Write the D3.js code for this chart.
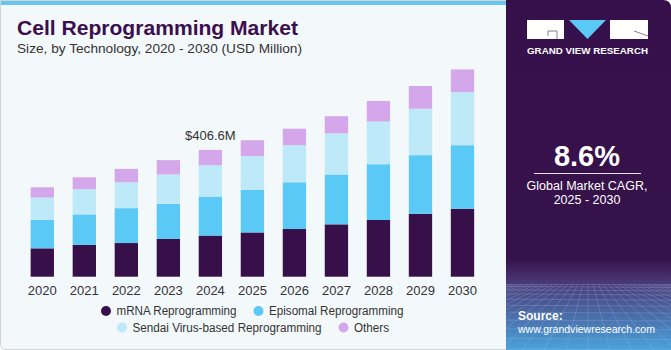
<!DOCTYPE html>
<html>
<head>
<meta charset="utf-8">
<script src="https://cdn.jsdelivr.net/npm/d3@7"></script>
<style>
  body { margin: 0; background: #fff; }
  svg { display: block; font-family: "Liberation Sans", Arial, sans-serif; }
</style>
</head>
<body>
<div id="chart"></div>
<script>
// chart values (USD Million)
const years = ["2020","2021","2022","2023","2024","2025","2026","2027","2028","2029","2030"];
const mrna     = [91, 102, 108, 121, 132, 142, 153, 168, 182, 202, 218];
const episomal = [91,  98, 112, 113, 125, 137, 150, 160, 179, 188, 204];
const sendai   = [72,  81,  83,  94, 101, 108, 119, 132, 137, 149, 170];
const others   = [33,  38,  43,  46,  49,  51,  53,  55,  66,  73,  73];
const seriesNames = ["mRNA Reprogramming", "Episomal Reprogramming", "Sendai Virus-based Reprogramming", "Others"];
const colors = ["#37104a", "#5bc9f5", "#bde9f9", "#d4a7ea"];
const callout = {year: "2024", text: "$406.6M"};

const W = 671, H = 350;
const svg = d3.select("#chart").append("svg")
    .attr("width", W).attr("height", H);

// left panel background
svg.append("path")
    .attr("d", "M0.5,0.5 H507 V349.5 H6 Q0.5,349.5 0.5,344 Z")
    .attr("fill", "#f3f8fb")
    .attr("stroke", "#d0d4d8")
    .attr("stroke-width", 1);
svg.append("rect")
    .attr("x", 1).attr("y", 1).attr("width", 506).attr("height", 4)
    .attr("fill", "#66c6ee");

// title
svg.append("text")
    .attr("x", 17).attr("y", 35)
    .attr("textLength", 281).attr("lengthAdjust", "spacingAndGlyphs")
    .style("font-size", "20px").style("font-weight", "900")
    .style("fill", "#3b0f4d")
    .text("Cell Reprogramming Market");
svg.append("text")
    .attr("x", 17).attr("y", 53)
    .attr("textLength", 285).attr("lengthAdjust", "spacingAndGlyphs")
    .style("font-size", "13px").style("fill", "#333")
    .text("Size, by Technology, 2020 - 2030 (USD Million)");

// stacked data
const table = years.map((y, i) => ({
    year: y, s0: mrna[i], s1: episomal[i], s2: sendai[i], s3: others[i]
}));
const keys = ["s0", "s1", "s2", "s3"];
const stack = d3.stack().keys(keys)(table);

const x = d3.scaleBand()
    .domain(years)
    .range([21.3, 483.5])
    .paddingInner(0.445)
    .paddingOuter(0.2225);

const y = d3.scaleLinear()
    .domain([0, 700])
    .range([276.7, 276.7 - 700 / 3.209]);

const g = svg.append("g");
g.selectAll("g.layer")
    .data(stack)
    .enter().append("g")
    .attr("class", "layer")
    .attr("fill", (d, i) => colors[i])
    .selectAll("rect")
    .data(d => d)
    .enter().append("rect")
    .attr("x", d => x(d.data.year))
    .attr("y", d => y(d[1]))
    .attr("width", x.bandwidth())
    .attr("height", d => y(d[0]) - y(d[1]));

// x axis labels
const xAxis = svg.append("g")
    .attr("transform", "translate(0,276.7)")
    .call(d3.axisBottom(x).tickSize(0).tickPadding(6));
xAxis.select(".domain").remove();
xAxis.selectAll("text")
    .style("font-size", "13px")
    .style("font-family", "Liberation Sans, Arial, sans-serif")
    .style("fill", "#333")
    .attr("dy", "0.95em");

// callout
const ci = years.indexOf(callout.year);
const total = mrna[ci] + episomal[ci] + sendai[ci] + others[ci];
svg.append("text")
    .attr("x", x(callout.year) + x.bandwidth() / 2)
    .attr("y", y(total) - 10)
    .attr("text-anchor", "middle")
    .style("font-size", "13px").style("fill", "#333")
    .text(callout.text);

// legend
const legendPos = [
    {cx: 106, cy: 311, w: 120}, {cx: 258.5, cy: 311, w: 134.5},
    {cx: 122, cy: 327.5, w: 189}, {cx: 343.5, cy: 327.5, w: 35}
];
const legend = svg.append("g");
seriesNames.forEach((name, i) => {
    legend.append("circle")
        .attr("cx", legendPos[i].cx).attr("cy", legendPos[i].cy)
        .attr("r", 5).attr("fill", colors[i]);
    legend.append("text")
        .attr("x", legendPos[i].cx + 10.5).attr("y", legendPos[i].cy + 4.3)
        .attr("textLength", legendPos[i].w).attr("lengthAdjust", "spacingAndGlyphs")
        .style("font-size", "12px").style("fill", "#333")
        .text(name);
});

// right panel
const defs = svg.append("defs");
const grad = defs.append("linearGradient")
    .attr("id", "panelGrad").attr("x1", 0).attr("y1", 0).attr("x2", 0).attr("y2", 1);
grad.append("stop").attr("offset", "0%").attr("stop-color", "#36104a");
grad.append("stop").attr("offset", "74%").attr("stop-color", "#36124b");
grad.append("stop").attr("offset", "81%").attr("stop-color", "#4b3a78");
grad.append("stop").attr("offset", "100%").attr("stop-color", "#4aa3dd");

svg.append("path")
    .attr("d", "M506,0 H663 Q671,0 671,8 V350 H506 Z")
    .attr("fill", "url(#panelGrad)");

// grid texture in the lower part
const clip = defs.append("clipPath").attr("id", "gridClip");
clip.append("rect").attr("x", 506).attr("y", 284).attr("width", 165).attr("height", 66);
const grid = svg.append("g").attr("clip-path", "url(#gridClip)")
    .attr("stroke", "#a9c6ec").attr("stroke-opacity", 0.35).attr("stroke-width", 0.7)
    .attr("fill", "none");
d3.range(0, 14).forEach(k => {
    const yy = 284 + k * k * 0.45 + k * 2;
    grid.append("line").attr("x1", 506).attr("x2", 671).attr("y1", yy).attr("y2", yy + 1);
});
d3.range(-20, 21).forEach(k => {
    grid.append("line")
        .attr("x1", 588 + k * 5).attr("y1", 284)
        .attr("x2", 588 + k * 22).attr("y2", 350);
});

// logo
const logo = svg.append("g");
logo.append("rect").attr("x", 527).attr("y", 20).attr("width", 37).attr("height", 19).attr("fill", "#fff");
logo.append("path").attr("d", "M548,31 H557 V39 M548,31 V36").attr("stroke", "#6a5a80").attr("stroke-width", 0.8).attr("fill", "none");
logo.append("path").attr("d", "M569,20 H606 L587.5,39 Z").attr("fill", "#5bc9f5");
logo.append("rect").attr("x", 610).attr("y", 20).attr("width", 38).attr("height", 19).attr("fill", "#fff");
logo.append("path").attr("d", "M634,31 L648,36").attr("stroke", "#6a5a80").attr("stroke-width", 0.8);
logo.append("text")
    .attr("x", 527).attr("y", 53.5)
    .attr("textLength", 121).attr("lengthAdjust", "spacingAndGlyphs")
    .style("font-size", "9px").style("font-weight", "bold").style("fill", "#fff")
    .text("GRAND VIEW RESEARCH");

// CAGR
svg.append("text")
    .attr("x", 587).attr("y", 165.5).attr("text-anchor", "middle")
    .style("font-size", "29px").style("font-weight", "bold").style("fill", "#fff")
    .text("8.6%");
svg.append("line")
    .attr("x1", 534).attr("x2", 641).attr("y1", 173.5).attr("y2", 173.5)
    .attr("stroke", "#e8e0ee").attr("stroke-width", 1);
svg.append("text")
    .attr("x", 587).attr("y", 189.5).attr("text-anchor", "middle")
    .style("font-size", "12.5px").style("fill", "#fff")
    .text("Global Market CAGR,");
svg.append("text")
    .attr("x", 587).attr("y", 204).attr("text-anchor", "middle")
    .style("font-size", "12.5px").style("fill", "#fff")
    .text("2025 - 2030");

// source
svg.append("text")
    .attr("x", 518).attr("y", 319.5)
    .style("font-size", "12px").style("font-weight", "bold").style("fill", "#fff")
    .text("Source:");
svg.append("text")
    .attr("x", 518).attr("y", 333)
    .attr("textLength", 137).attr("lengthAdjust", "spacingAndGlyphs")
    .style("font-size", "11.5px").style("fill", "#fff")
    .text("www.grandviewresearch.com");
</script>
</body>
</html>
